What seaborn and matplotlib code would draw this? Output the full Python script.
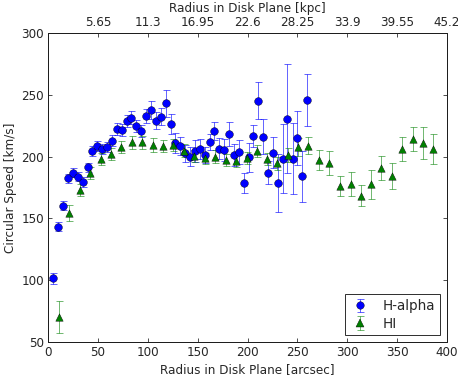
import matplotlib
matplotlib.use("Agg")
import matplotlib.pyplot as plt
from matplotlib.lines import Line2D
import pandas as pd
import seaborn as sns

# H-alpha rotation curve: radius [arcsec], circular speed [km/s], error [km/s]
ha_r = [5.3, 10.3, 15.4, 20.0, 24.7, 30.0, 34.7, 39.8, 44.4, 49.4, 54.4, 59.1,
        64.2, 68.9, 73.9, 78.9, 83.5, 88.5, 93.2, 98.5, 103.0, 108.0, 113.3,
        118.0, 123.0, 127.3, 132.3, 137.3, 142.4, 147.0, 152.0, 157.0, 162.1,
        166.7, 171.7, 176.4, 181.5, 186.5, 191.2, 196.2, 201.2, 205.8, 210.8,
        215.8, 220.6, 225.3, 230.3, 235.3, 239.9, 245.3, 249.6, 254.6, 259.3]
ha_v = [101.5, 143.3, 160.3, 182.4, 187.0, 183.7, 179.6, 191.3, 204.8, 208.6,
        206.1, 208.0, 212.9, 222.3, 221.5, 228.6, 231.5, 224.8, 220.7, 232.8,
        237.7, 229.0, 232.3, 243.1, 226.1, 210.7, 208.6, 202.7, 200.0, 204.5,
        205.9, 201.3, 211.5, 220.9, 206.4, 205.3, 218.3, 201.0, 204.0, 178.4,
        199.4, 216.7, 245.3, 216.1, 187.0, 203.2, 178.4, 198.4, 230.7, 198.2,
        214.9, 184.0, 245.8]
ha_err = [4.5, 3.5, 3.5, 3.5, 3.5, 3.5, 4.0, 3.5, 4.0, 4.0, 4.0, 4.0, 4.5,
          4.5, 4.5, 5.0, 5.0, 5.0, 5.0, 6.0, 7.3, 7.0, 7.0, 10.8, 8.0, 8.0,
          7.0, 6.7, 8.0, 8.8, 8.0, 6.7, 6.5, 7.4, 8.5, 9.0, 10.0, 9.0, 9.7,
          8.0, 12.0, 9.0, 15.0, 14.0, 9.5, 12.8, 23.6, 28.0, 44.0, 28.6, 22.0,
          20.5, 21.3]

# HI rotation curve
hi_r = [11.0, 21.0, 32.0, 42.0, 52.8, 62.8, 73.2, 83.9, 94.2, 104.9, 115.0,
        125.6, 136.3, 146.4, 157.0, 167.4, 178.1, 188.5, 199.2, 209.2, 219.2,
        229.9, 240.3, 251.0, 261.0, 271.7, 282.0, 292.7, 303.5, 313.5, 323.8,
        333.8, 344.5, 355.1, 365.5, 375.5, 386.2]
hi_v = [70.0, 154.0, 173.0, 186.5, 198.0, 202.0, 208.0, 211.5, 211.5, 209.3,
        208.6, 209.3, 204.8, 200.5, 198.7, 200.0, 197.2, 196.7, 199.1, 204.5,
        197.8, 194.6, 201.3, 207.5, 208.6, 197.2, 194.6, 176.2, 177.6, 168.4,
        177.8, 190.5, 184.5, 205.9, 214.2, 210.7, 205.9]
hi_err = [13.0, 6.5, 4.7, 5.0, 5.0, 5.0, 5.0, 5.5, 5.5, 5.5, 5.0, 5.0, 5.0,
          5.0, 4.5, 5.0, 5.0, 5.0, 5.0, 5.0, 5.0, 5.4, 6.0, 7.4, 6.9, 7.8,
          9.8, 8.0, 9.8, 8.4, 11.7, 9.7, 10.4, 9.8, 10.0, 13.0, 12.0]

# Secondary axis: arcsec positions and their kpc labels
kpc_ticks = [50, 100, 150, 200, 250, 300, 350, 400]
kpc_labels = ["5.65", "11.3", "16.95", "22.6", "28.25", "33.9", "39.55", "45.2"]

sns.set_style("ticks")
plt.rcParams["font.family"] = ["DejaVu Sans"]
plt.rcParams["xtick.direction"] = "in"
plt.rcParams["ytick.direction"] = "in"

ha = pd.DataFrame({"r": ha_r, "v": ha_v, "e": ha_err})
hi = pd.DataFrame({"r": hi_r, "v": hi_v, "e": hi_err})

DPI = 72
fig = plt.figure(figsize=(458 / DPI, 380 / DPI), dpi=DPI)
ax = fig.add_axes([48 / 458, 1 - 342 / 380, 399 / 458, 309 / 380])

blue = "#0000ff"
green = "#008000"

eb_ha = ax.errorbar(ha["r"], ha["v"], yerr=ha["e"], fmt="none",
                    ecolor=blue, alpha=0.6, elinewidth=1.0, capsize=3.5,
                    capthick=1.0, zorder=2)
eb_hi = ax.errorbar(hi["r"], hi["v"], yerr=hi["e"], fmt="none",
                    ecolor=green, alpha=0.55, elinewidth=1.0, capsize=3.5,
                    capthick=1.0, zorder=2)

sns.scatterplot(data=ha, x="r", y="v", marker="o", s=60, color=blue,
                edgecolor="k", linewidth=0.4, ax=ax, zorder=3, legend=False)
sns.scatterplot(data=hi, x="r", y="v", marker="^", s=55, color=green,
                edgecolor="k", linewidth=0.4, ax=ax, zorder=3, legend=False)

ax.set_xlim(0, 400)
ax.set_ylim(50, 300)
ax.set_xticks(range(0, 401, 50))
ax.set_yticks(range(50, 301, 50))
ax.tick_params(axis="both", labelsize=12, length=4, width=0.8,
               right=True, top=False, pad=4)
ax.set_xlabel("Radius in Disk Plane [arcsec]", fontsize=12, labelpad=4)
ax.set_ylabel("Circular Speed [km/s]", fontsize=12, labelpad=4)
for s in ax.spines.values():
    s.set_linewidth(1.0)
    s.set_color("k")

top = ax.twiny()
top.set_xlim(ax.get_xlim())
top.set_xticks(kpc_ticks)
top.set_xticklabels(kpc_labels)
top.tick_params(axis="x", labelsize=12, length=4, width=0.8, direction="in",
                pad=4)
top.set_xlabel("Radius in Disk Plane [kpc]", fontsize=12, labelpad=4)

# Legend entries: error bar with the marker drawn on top
h_ha = Line2D([], [], marker="o", color=blue, markeredgecolor="k",
              markeredgewidth=0.4, linestyle="none", markersize=7.5)
h_hi = Line2D([], [], marker="^", color=green, markeredgecolor="k",
              markeredgewidth=0.4, linestyle="none", markersize=7.5)
leg = ax.legend([(eb_ha, h_ha), (eb_hi, h_hi)], ["H-alpha", "HI"],
                loc="lower right", fontsize=13.5, frameon=True, fancybox=False,
                edgecolor="k", borderaxespad=0.5, handlelength=1.6,
                borderpad=0.35, labelspacing=0.25, handletextpad=0.9)
leg.get_frame().set_linewidth(1.0)

fig.savefig("out.png", dpi=DPI, facecolor="white")
